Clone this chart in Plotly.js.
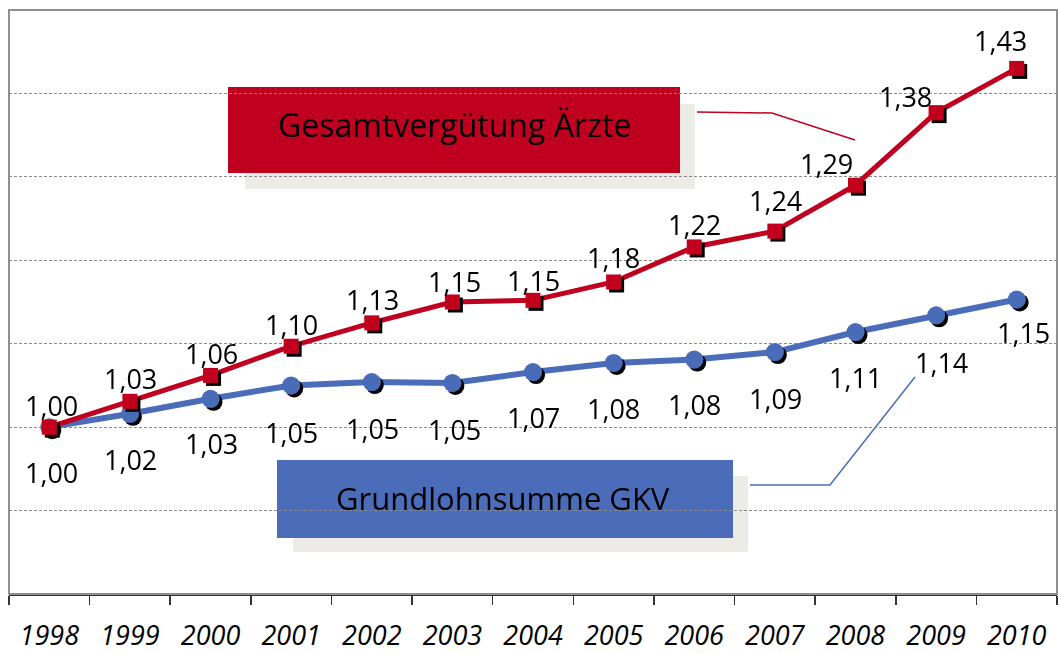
<!DOCTYPE html>
<html>
<head>
<meta charset="utf-8">
<script src="https://cdn.plot.ly/plotly-3.0.1.min.js"></script>
<style>html,body{margin:0;padding:0;background:#fff;}#chart{width:1058px;height:653px;}</style>
</head>
<body>
<div id="chart"></div>
<script>
const years = ['1998','1999','2000','2001','2002','2003','2004','2005','2006','2007','2008','2009','2010'];
const aerzte = [1.000,1.031,1.062,1.097,1.125,1.150,1.152,1.174,1.216,1.235,1.290,1.377,1.430];
const gkv    = [1.000,1.016,1.034,1.050,1.054,1.053,1.066,1.077,1.081,1.090,1.114,1.134,1.153];
const labelAerzte = ['1,00','1,03','1,06','1,10','1,13','1,15','1,15','1,18','1,22','1,24','1,29','1,38','1,43'];
const labelGkv    = ['1,00','1,02','1,03','1,05','1,05','1,05','1,07','1,08','1,08','1,09','1,11','1,14','1,15'];
const nameAerzte = 'Gesamtvergütung Ärzte';
const nameGkv = 'Grundlohnsumme GKV';

// ---- styling ----
const RED = '#c0001f', BLUE = '#4a6cb9', SHADOW = '#ecebe6';
const W = 1058, H = 653, ML = 9, MR = 1, MT = 10, MB = 59;
const PW = W - ML - MR, PH = H - MT - MB;
const px = v => (v - ML) / PW;
const py = v => (H - MB - v) / PH;

// label offsets (pixels) per point
const redShiftX = [2,1,1,0,1,2,0,0,0,1,-29,-31,-16];
const redShiftY = [22,23,22,22,23,21,20,24,22,31,22,16,28];
const blueShiftX = [2,1,1,0,1,2,0,0,0,1,0,5,7];
const blueShiftY = [-45,-46,-45,-47,-46,-47,-45,-46,-45,-46,-45,-47,-33];

const labelFont = {family:'Open Sans', size:27, color:'#000'};

const annotations = [];
years.forEach((y,i)=>{
  annotations.push({x:i, y:aerzte[i], xref:'x', yref:'y', text:labelAerzte[i], showarrow:false,
    xanchor:'center', yanchor:'middle', xshift:redShiftX[i], yshift:redShiftY[i], font:labelFont});
  annotations.push({x:i, y:gkv[i], xref:'x', yref:'y', text:labelGkv[i], showarrow:false,
    xanchor:'center', yanchor:'middle', xshift:blueShiftX[i], yshift:blueShiftY[i], font:labelFont});
});
annotations.push({xref:'paper', yref:'paper', x:px(454), y:py(125), xanchor:'center', yanchor:'middle', text:nameAerzte, showarrow:false,
  font:{family:'Open Sans', size:32, color:'#000'}});
annotations.push({xref:'paper', yref:'paper', x:px(503), y:py(498), xanchor:'center', yanchor:'middle', text:nameGkv, showarrow:false,
  font:{family:'Open Sans', size:31, color:'#000'}});

function rect(x0,y0,x1,y1,fill,layer){
  return {type:'rect', xref:'paper', yref:'paper', x0:px(x0), x1:px(x1), y0:py(y0), y1:py(y1),
    fillcolor:fill, line:{width:0}, layer:layer};
}
function path(pts,color,layer){
  const d = pts.map((p,i)=>(i?'L':'M')+px(p[0])+','+py(p[1])).join(' ');
  return {type:'path', xref:'paper', yref:'paper', path:d, line:{color:color,width:1.5}, layer:layer};
}
const shapes = [
  rect(245,104,695,189,SHADOW,'below'),
  rect(293,476,748,552,SHADOW,'below'),
  rect(228,87,680,173,RED,'between'),
  rect(277,460,733,538,BLUE,'between'),
  path([[697,112],[772,113],[855,140]],RED,'between'),
  path([[750,485],[830,485],[915,377]],BLUE,'between'),
  {type:'rect', xref:'paper', yref:'paper', x0:0, x1:1, y0:0, y1:1, line:{color:'#8f8f8f', width:2}, layer:'above'}
];

const traces = [
  {type:'scatter', mode:'lines+markers', x:years, y:gkv, name:nameGkv,
   line:{color:BLUE, width:6}, marker:{symbol:'circle', size:18, color:BLUE}, hoverinfo:'skip'},
  {type:'scatter', mode:'lines+markers', x:years, y:aerzte, name:nameAerzte,
   line:{color:RED, width:5}, marker:{symbol:'square', size:15, color:RED}, hoverinfo:'skip'}
];

const layout = {
  width:W, height:H, margin:{l:ML, r:MR, t:MT, b:MB, pad:0},
  paper_bgcolor:'#fff', plot_bgcolor:'#fff', showlegend:false,
  xaxis:{type:'category', categoryorder:'array', categoryarray:years, range:[-0.5, years.length-0.5],
    autorange:false, tickson:'boundaries', tickangle:0,
    ticks:'outside', ticklen:9, tickwidth:1.5, tickcolor:'#333', showgrid:false, zeroline:false,
    showline:true, linecolor:'#333', linewidth:2, ticklabelstandoff:17,
    tickfont:{family:'Open Sans', size:27, style:'italic', color:'#000'}, fixedrange:true},
  yaxis:{range:[0.8,1.5], autorange:false, dtick:0.1, tick0:0.8, showticklabels:false, ticks:'', zeroline:false,
    showgrid:true, gridcolor:'#8a8a8a', gridwidth:1, griddash:'3px,2px', showline:false, fixedrange:true},
  shapes:shapes, annotations:annotations
};

Plotly.newPlot('chart', traces, layout, {staticPlot:true, displayModeBar:false}).then(gd=>{
  const svg = gd.querySelector('svg.main-svg');
  const ns = 'http://www.w3.org/2000/svg';
  let defs = svg.querySelector('defs');
  if(!defs){defs = document.createElementNS(ns,'defs'); svg.insertBefore(defs, svg.firstChild);}
  const f = document.createElementNS(ns,'filter');
  f.setAttribute('id','mkshadow'); f.setAttribute('x','-50%'); f.setAttribute('y','-50%');
  f.setAttribute('width','200%'); f.setAttribute('height','200%');
  const ds = document.createElementNS(ns,'feDropShadow');
  ds.setAttribute('dx','3'); ds.setAttribute('dy','3'); ds.setAttribute('stdDeviation','0');
  ds.setAttribute('flood-color','#000'); ds.setAttribute('flood-opacity','1');
  f.appendChild(ds); defs.appendChild(f);
  gd.querySelectorAll('.scatterlayer .trace .points').forEach(g=>g.setAttribute('filter','url(#mkshadow)'));
});
</script>
</body>
</html>
